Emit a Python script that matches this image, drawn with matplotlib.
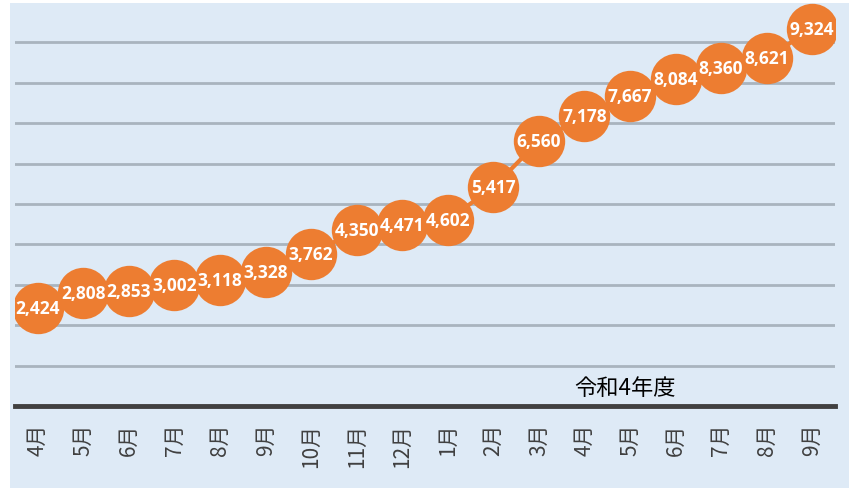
import matplotlib.pyplot as plt
import matplotlib.patches as mpatches

months = ['4月', '5月', '6月', '7月', '8月', '9月', '10月', '11月', '12月',
          '1月', '2月', '3月', '4月', '5月', '6月', '7月', '8月', '9月']
values = [2424, 2808, 2853, 3002, 3118, 3328, 3762, 4350, 4471,
          4602, 5417, 6560, 7178, 7667, 8084, 8360, 8621, 9324]
year_label = '令和4年度'

plt.rcParams['font.family'] = ['Noto Sans CJK JP', 'DejaVu Sans']

fig = plt.figure(figsize=(8.49, 4.89), dpi=100)
fig.patches.append(mpatches.Rectangle((10 / 849, 0), 1, 1 - 4 / 489,
                                      transform=fig.transFigure,
                                      facecolor='#DEEAF6', edgecolor='none', zorder=-10))
ax = fig.add_axes([15 / 849, 1 - 407 / 489, 820 / 849, 404 / 489])
ax.set_facecolor('none')

x = list(range(len(values)))
orange = '#ED7D31'
ax.plot(x, values, color=orange, linewidth=3, marker='o', markersize=37,
        markeredgewidth=0, zorder=3)
for xi, v in zip(x, values):
    ax.text(xi, v, f'{v:,}', ha='center', va='center', color='white',
            fontsize=12.5, fontweight='bold', family='Open Sans', zorder=4)

ax.set_xlim(-0.5, len(values) - 0.5)
ax.set_ylim(0, 10000)
ax.set_yticks(range(1000, 10000, 1000))
ax.yaxis.grid(True, color='#A9B4BE', linewidth=2)
ax.set_axisbelow(True)
ax.tick_params(axis='y', left=False, labelleft=False)
ax.set_xticks(x)
ax.set_xticklabels(months, rotation=90, fontsize=15, color='#404040')
ax.tick_params(axis='x', length=0, pad=12)
for s in ['top', 'right', 'left']:
    ax.spines[s].set_visible(False)
ax.spines['bottom'].set_color('#404040')
ax.spines['bottom'].set_linewidth(3.5)

ax.text(0.744, 0.047, year_label, transform=ax.transAxes, ha='center',
        va='center', fontsize=16, color='black')

fig.savefig('out.png', dpi=100)
